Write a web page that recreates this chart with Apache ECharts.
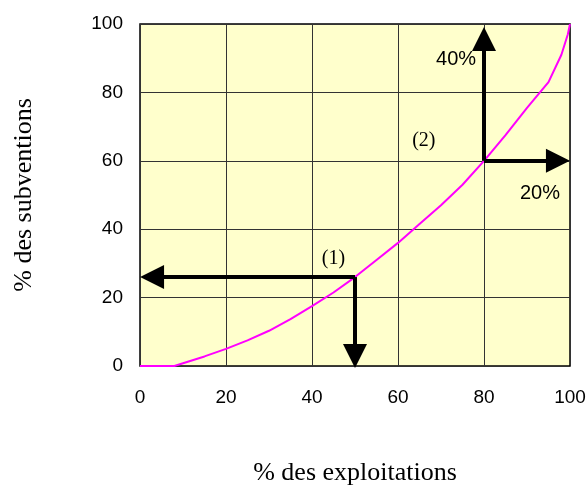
<!DOCTYPE html>
<html>
<head>
<meta charset="utf-8">
<script src="https://cdn.jsdelivr.net/npm/echarts@6/dist/echarts.min.js"></script>
<style>
  html, body { margin: 0; padding: 0; background: #fff; }
  #chart { width: 588px; height: 487px; }
</style>
</head>
<body>
<div id="chart"></div>
<script>
// courbe de concentration (% cumulés)
var exploitations = [0, 5, 8, 10, 15, 20, 25, 30, 35, 40, 45, 50, 55, 60, 65, 70, 75, 80, 85, 90, 95, 98, 99.5, 100];
var subventions   = [0, 0, 0, 0.8, 2.8, 5, 7.5, 10.3, 13.7, 17.5, 21.5, 26, 31, 36, 41.5, 47, 53, 60, 67.5, 75.5, 83, 91, 97, 100];

var xTicks = [0, 20, 40, 60, 80, 100];
var yTicks = [0, 20, 40, 60, 80, 100];

// fleches : [depart, centre de la pointe]
var arrows = [
  [[50, 26], [2.8, 26]],
  [[50, 26], [50, 2.9]],
  [[80, 60], [80, 95.6]],
  [[80, 60], [97.2, 60]]
];

// annotations
var notes = [
  { pos: [45, 31.5], text: '(1)', serif: true },
  { pos: [66, 66], text: '(2)', serif: true },
  { pos: [73.5, 89.5], text: '40%', serif: false },
  { pos: [93, 50.5], text: '20%', serif: false }
];

var curve = exploitations.map(function (x, i) { return [x, subventions[i]]; });

var chart = echarts.init(document.getElementById('chart'));

var option = {
  animation: false,
  grid: {
    left: 140, right: 18, top: 24, bottom: 121,
    outerBoundsMode: 'none',
    show: true,
    backgroundColor: '#FFFFCC',
    borderColor: '#000',
    borderWidth: 1.5
  },
  xAxis: {
    type: 'value',
    min: 0, max: 100, interval: 20,
    name: '% des exploitations',
    nameLocation: 'middle',
    nameGap: 94,
    nameTextStyle: { fontFamily: 'Liberation Serif', fontSize: 26, color: '#000' },
    axisLine: { show: false },
    axisTick: { show: false },
    axisLabel: {
      fontFamily: 'Liberation Sans', fontSize: 19, color: '#000', margin: 22,
      formatter: function (v) { return xTicks.indexOf(v) >= 0 ? String(v) : ''; }
    },
    splitLine: { show: true, lineStyle: { color: '#333', width: 1 } }
  },
  yAxis: {
    type: 'value',
    min: 0, max: 100, interval: 20,
    name: '% des subventions',
    nameLocation: 'middle',
    nameGap: 103,
    nameTextStyle: { fontFamily: 'Liberation Serif', fontSize: 26, color: '#000' },
    axisLine: { show: false },
    axisTick: { show: false },
    axisLabel: {
      fontFamily: 'Liberation Sans', fontSize: 19, color: '#000', margin: 17,
      formatter: function (v) { return yTicks.indexOf(v) >= 0 ? String(v) : ''; }
    },
    splitLine: { show: true, lineStyle: { color: '#333', width: 1 } }
  },
  series: [
    {
      type: 'line',
      data: curve,
      showSymbol: false,
      lineStyle: { color: '#FF00FF', width: 2 },
      z: 3
    },
    {
      type: 'lines',
      coordinateSystem: 'cartesian2d',
      clip: false,
      data: arrows.map(function (a) { return { coords: a }; }),
      symbol: ['none', 'triangle'],
      symbolSize: [0, 24],
      lineStyle: { color: '#000', width: 4, opacity: 1 },
      z: 4
    },
    {
      type: 'scatter',
      symbolSize: 0,
      itemStyle: { opacity: 1 },
      data: notes.map(function (n) {
        return {
          value: n.pos,
          label: {
            show: true,
            formatter: n.text,
            position: 'inside',
            fontFamily: n.serif ? 'Liberation Serif' : 'Liberation Sans',
            fontSize: 20,
            color: '#000'
          }
        };
      }),
      z: 5
    }
  ]
};

chart.setOption(option);
</script>
</body>
</html>
